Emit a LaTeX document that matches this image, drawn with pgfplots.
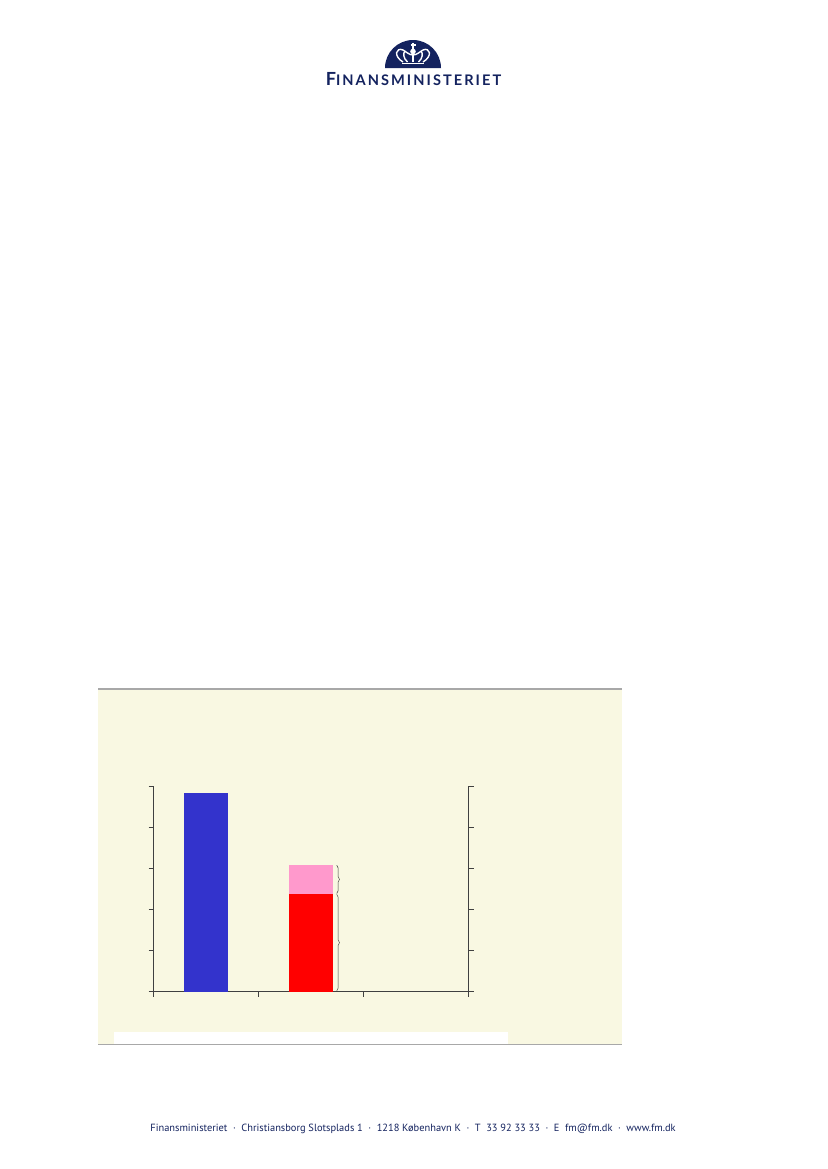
\documentclass[border=0pt]{standalone}
\usepackage{fontspec}
\setmainfont{PT Sans}
\newfontfamily\logofont{Lato}
\usepackage{pgfplots}
\pgfplotsset{compat=1.18}
\usetikzlibrary{decorations.pathreplacing}
\definecolor{panel}{HTML}{F9F8E2}
\definecolor{navy}{HTML}{14235F}
\definecolor{barblue}{HTML}{3333CC}
\definecolor{barpink}{HTML}{FF99CC}
\definecolor{rulegray}{HTML}{A8A8A8}
\definecolor{axisgray}{HTML}{404040}
\pgfplotsset{panelaxis/.style={
    at={(110.52pt,-714.02pt)},
    anchor=south west,
    scale only axis,
    width=226.8pt,
    height=147.9pt,
    xmin=-0.5, xmax=2.5,
    ymin=0, ymax=5,
    axis line style={axisgray,line width=0.7pt,-},
    tick style={axisgray,line width=0.7pt},
    tick align=outside,
    major tick length=3.6pt,
    ytick={0,1,2,3,4,5},
    yticklabels={},
}}
\begin{document}
% picture coordinates are reference pixels, y counted from the top
\begin{tikzpicture}
  \path[use as bounding box,fill=white] (0,0) rectangle (595.44pt,-841.68pt);

  \begin{scope}[x=0.72pt,y=-0.72pt]
  % logo
  \fill[navy] (385,68) arc[start angle=180,end angle=0,radius=20.16pt] -- cycle;
  \begin{scope}[draw=white,line width=1pt]
    \draw (413,42.5) -- (413,49);
    \draw (410.5,45) -- (415.5,45);
    \fill[white] (413,51.5) circle[radius=2pt];
    \draw (403,62) .. controls (393,56) and (396,47) .. (403,50) .. controls (406,51.5) and (409,55) .. (413,55)
       .. controls (417,55) and (420,51.5) .. (423,50) .. controls (430,47) and (433,56) .. (423,62);
    \draw (407.5,62) .. controls (403,58) and (403,53) .. (405,51);
    \draw (418.5,62) .. controls (423,58) and (423,53) .. (421,51);
    \draw (413,62) -- (413,54);
    \draw[line width=1.4pt] (402,63.5) -- (424,63.5);
  \end{scope}
  \node[anchor=base,text=navy,inner sep=0pt] at (413.5,85.5)
    {\logofont\addfontfeature{LetterSpace=14}\bfseries\fontsize{13}{14}\selectfont F\fontsize{10.5}{14}\selectfont INANSMINISTERIET};

  % panel behind the chart
  \fill[panel] (98.3,689) rectangle (622,1044);
  \fill[white] (114.3,1032) rectangle (508,1044);
  \draw[rulegray,line width=0.8pt] (98.3,689) -- (622,689);
  \draw[rulegray,line width=0.8pt] (98.3,1044.5) -- (622,1044.5);
  \end{scope}

  \begin{axis}[
    panelaxis,
    ybar stacked,
    bar width=0.416,
    axis x line*=bottom,
    axis y line*=left,
    xtick={-0.5,0.5,1.5,2.5},
    xticklabels={},
    clip=false,
  ]
    \addplot[draw=none,fill=barblue] coordinates {(0,4.83) (1,0) (2,0)};
    \addplot[draw=none,fill=red] coordinates {(0,0) (1,2.38) (2,0)};
    \addplot[draw=none,fill=barpink] coordinates {(0,0) (1,0.70) (2,0)};
    % braces beside the second bar
    \draw[decorate,decoration={brace,amplitude=2pt},axisgray,line width=0.35pt]
      (axis cs:1.245,3.08) -- (axis cs:1.245,2.39);
    \draw[decorate,decoration={brace,amplitude=2pt},axisgray,line width=0.35pt]
      (axis cs:1.245,2.37) -- (axis cs:1.245,0.02);
  \end{axis}

  % right hand axis with the same scale
  \begin{axis}[
    panelaxis,
    axis x line=none,
    axis y line*=right,
  ]
  \end{axis}

  % footer
  \begin{scope}[x=0.72pt,y=-0.72pt]
  \node[anchor=base,text=navy,inner sep=0pt] at (413,1131)
    {\fontsize{7.5}{9}\selectfont Finansministeriet\ \ ·\ \ Christiansborg Slotsplads 1\ \ ·\ \ 1218 København K\ \ ·\ \ T\ \ 33 92 33 33\ \ ·\ \ E\ \ fm@fm.dk\ \ ·\ \ www.fm.dk};
  \end{scope}
\end{tikzpicture}
\end{document}
